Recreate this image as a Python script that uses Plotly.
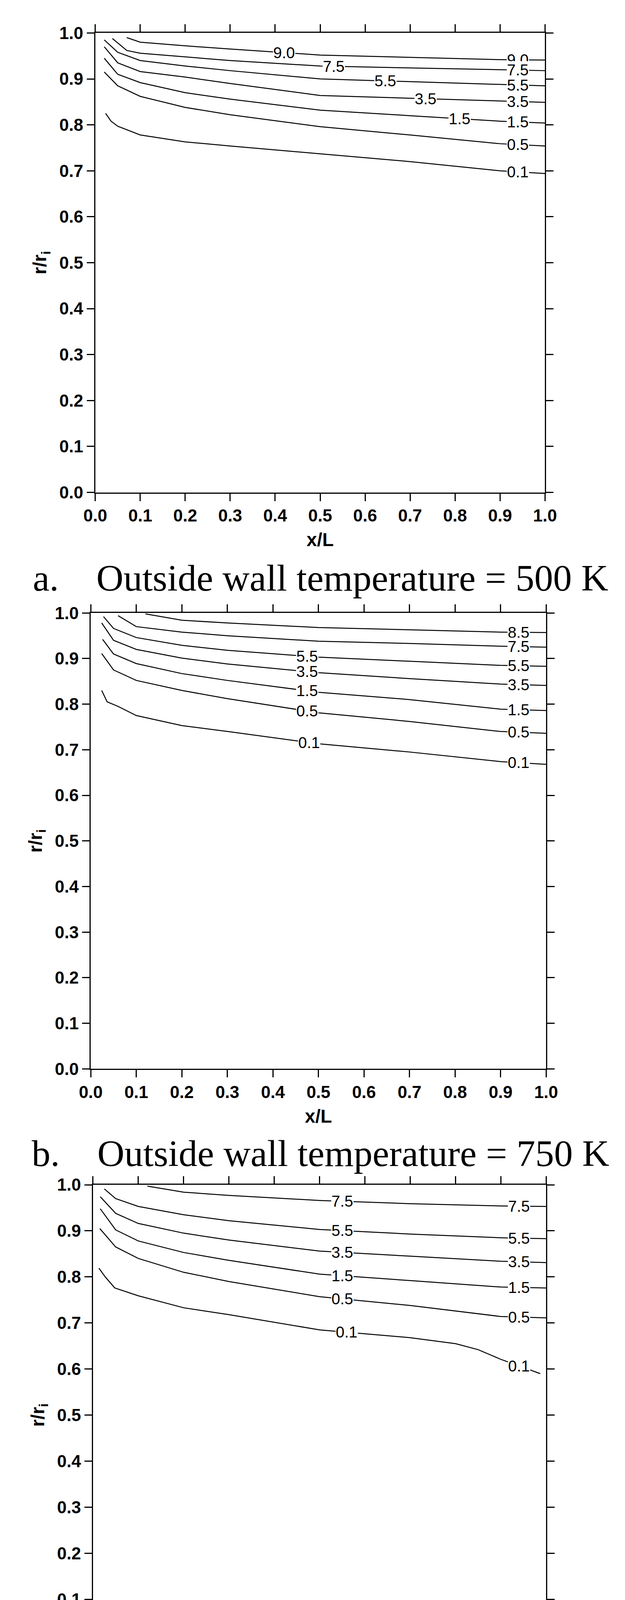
import plotly.graph_objects as go

# contour levels per panel: x/L positions and r/ri values
levelsA = ["9.0", "7.5", "5.5", "3.5", "1.5", "0.5", "0.1"]
xA = [
    [0.07, 0.1, 0.2, 0.3, 0.5, 0.7, 0.9, 1.0],
    [0.038, 0.07, 0.1, 0.2, 0.3, 0.5, 0.7, 0.9, 1.0],
    [0.02, 0.05, 0.1, 0.2, 0.3, 0.5, 0.7, 0.9, 1.0],
    [0.02, 0.05, 0.1, 0.2, 0.3, 0.5, 0.7, 0.9, 1.0],
    [0.02, 0.05, 0.1, 0.2, 0.3, 0.5, 0.7, 0.9, 1.0],
    [0.02, 0.05, 0.1, 0.2, 0.3, 0.5, 0.7, 0.9, 1.0],
    [0.023, 0.035, 0.05, 0.1, 0.2, 0.3, 0.5, 0.7, 0.9, 1.0],
]
yA = [
    [0.990, 0.980, 0.972, 0.965, 0.952, 0.947, 0.942, 0.941],
    [0.988, 0.962, 0.956, 0.948, 0.940, 0.928, 0.924, 0.920, 0.918],
    [0.985, 0.958, 0.940, 0.928, 0.918, 0.900, 0.894, 0.888, 0.885],
    [0.970, 0.935, 0.916, 0.904, 0.890, 0.864, 0.858, 0.852, 0.849],
    [0.945, 0.910, 0.892, 0.870, 0.856, 0.832, 0.820, 0.808, 0.804],
    [0.915, 0.885, 0.862, 0.838, 0.822, 0.796, 0.778, 0.759, 0.754],
    [0.825, 0.808, 0.797, 0.778, 0.763, 0.754, 0.737, 0.720, 0.700, 0.694],
]
labelsA = [(0.42, "9.0"), (0.53, "7.5"), (0.645, "5.5"), (0.735, "3.5"), (0.81, "1.5"), None, None]

levelsB = ["8.5", "7.5", "5.5", "3.5", "1.5", "0.5", "0.1"]
xB = [
    [0.12, 0.2, 0.3, 0.5, 0.7, 0.9, 1.0],
    [0.06, 0.1, 0.2, 0.3, 0.5, 0.7, 0.9, 1.0],
    [0.028, 0.05, 0.1, 0.2, 0.3, 0.5, 0.7, 0.9, 1.0],
    [0.024, 0.05, 0.1, 0.2, 0.3, 0.5, 0.7, 0.9, 1.0],
    [0.026, 0.05, 0.1, 0.2, 0.3, 0.5, 0.7, 0.9, 1.0],
    [0.024, 0.05, 0.1, 0.2, 0.3, 0.5, 0.7, 0.9, 1.0],
    [0.024, 0.036, 0.06, 0.1, 0.2, 0.3, 0.5, 0.7, 0.9, 1.0],
]
yB = [
    [0.998, 0.984, 0.978, 0.968, 0.963, 0.958, 0.957],
    [0.994, 0.970, 0.958, 0.950, 0.938, 0.933, 0.927, 0.925],
    [0.992, 0.966, 0.946, 0.929, 0.918, 0.903, 0.894, 0.885, 0.883],
    [0.978, 0.940, 0.920, 0.901, 0.888, 0.869, 0.856, 0.844, 0.841],
    [0.942, 0.910, 0.889, 0.867, 0.852, 0.826, 0.810, 0.789, 0.786],
    [0.911, 0.875, 0.852, 0.830, 0.812, 0.781, 0.762, 0.740, 0.736],
    [0.830, 0.805, 0.795, 0.775, 0.753, 0.740, 0.713, 0.695, 0.674, 0.668],
]
labelsB = [None, None, (0.475, "5.5"), (0.475, "3.5"), (0.475, "1.5"), (0.475, "0.5"), (0.48, "0.1")]

levelsC = ["7.5", "5.5", "3.5", "1.5", "0.5", "0.1"]
xC = [
    [0.12, 0.2, 0.3, 0.5, 0.7, 0.9, 1.0],
    [0.025, 0.05, 0.1, 0.2, 0.3, 0.5, 0.7, 0.9, 1.0],
    [0.016, 0.05, 0.1, 0.2, 0.3, 0.5, 0.7, 0.9, 1.0],
    [0.016, 0.05, 0.1, 0.2, 0.3, 0.5, 0.7, 0.9, 1.0],
    [0.015, 0.05, 0.1, 0.2, 0.3, 0.5, 0.7, 0.9, 1.0],
    [0.013, 0.027, 0.048, 0.1, 0.2, 0.3, 0.5, 0.7, 0.8, 0.85, 0.9, 0.987],
]
yC = [
    [0.997, 0.984, 0.977, 0.966, 0.959, 0.954, 0.953],
    [0.991, 0.970, 0.953, 0.935, 0.922, 0.903, 0.893, 0.885, 0.883],
    [0.974, 0.938, 0.916, 0.895, 0.880, 0.856, 0.845, 0.834, 0.831],
    [0.948, 0.902, 0.878, 0.853, 0.836, 0.806, 0.792, 0.778, 0.776],
    [0.905, 0.865, 0.840, 0.810, 0.790, 0.757, 0.738, 0.714, 0.711],
    [0.819, 0.800, 0.776, 0.759, 0.733, 0.718, 0.685, 0.668, 0.655, 0.642, 0.621, 0.590],
]
labelsC = [(0.55, "7.5"), (0.55, "5.5"), (0.55, "3.5"), (0.55, "1.5"), (0.55, "0.5"), (0.56, "0.1")]

captions = [
    "a.    Outside wall temperature = 500 K",
    "b.    Outside wall temperature = 750 K",
    "c.    Outside wall temperature = 1000 K",
]

W, H = 1599, 4511
# plot-area pixel boxes: (left, right, top, bottom)
panels = [(213, 1410, 52, 1241), (201, 1413, 1553, 2733), (207, 1413, 3033, 4225)]
captionY = [1462, 2952, 4441]

fig = go.Figure()
tickfont = dict(family="Liberation Sans", size=44, color="black", weight="bold")
labelfont = dict(family="Liberation Sans", size=40, color="black")
titlefont = dict(family="Liberation Sans", size=48, color="black", weight="bold")


def addPanel(i, levels, xs, ys, labels):
    xa = "x" if i == 0 else f"x{i+1}"
    ya = "y" if i == 0 else f"y{i+1}"
    for lev, xv, yv, lab in zip(levels, xs, ys, labels):
        fig.add_trace(go.Scatter(x=xv, y=yv, mode="lines", xaxis=xa, yaxis=ya,
                                 line=dict(color="black", width=2.5), showlegend=False))
        # right-hand label near x=0.94
        yr = yv[-2] + (yv[-1] - yv[-2]) * (0.94 - xv[-2]) / (xv[-1] - xv[-2])
        fig.add_annotation(x=0.94, y=yr, xref=xa, yref=ya, text=lev, showarrow=False,
                           bgcolor="white", font=labelfont, borderpad=0)
        if lab:
            lx = lab[0]
            for k in range(len(xv) - 1):
                if xv[k] <= lx <= xv[k + 1]:
                    ly = yv[k] + (yv[k + 1] - yv[k]) * (lx - xv[k]) / (xv[k + 1] - xv[k])
            fig.add_annotation(x=lx, y=ly, xref=xa, yref=ya, text=lab[1], showarrow=False,
                               bgcolor="white", font=labelfont, borderpad=0)
    left, right, top, bot = panels[i]
    ax = dict(range=[0, 1], dtick=0.1, tickformat=".1f", ticks="outside", ticklen=19,
              tickwidth=3, tickcolor="black", showline=True, linecolor="black", linewidth=3,
              mirror="allticks", showgrid=False, zeroline=False, tickfont=tickfont)
    fig.update_layout(**{
        ("xaxis" if i == 0 else f"xaxis{i+1}"): dict(ax, domain=[left / W, right / W], anchor=ya,
            title=dict(text="x/L", font=titlefont, standoff=22)),
        ("yaxis" if i == 0 else f"yaxis{i+1}"): dict(ax, domain=[1 - bot / H, 1 - top / H], anchor=xa,
            title=dict(text="r/r<sub>i</sub>", font=titlefont, standoff=18)),
    })
    fig.add_annotation(x=813 / W, y=1 - captionY[i] / H, xref="paper", yref="paper", text=captions[i],
                       showarrow=False, yanchor="middle",
                       font=dict(family="Liberation Serif", size=96, color="black"))


addPanel(0, levelsA, xA, yA, labelsA)
addPanel(1, levelsB, xB, yB, labelsB)
addPanel(2, levelsC, xC, yC, labelsC)

fig.update_layout(width=W, height=H, margin=dict(l=0, r=0, t=0, b=0),
                  plot_bgcolor="white", paper_bgcolor="white")
fig.write_html("out.html")
